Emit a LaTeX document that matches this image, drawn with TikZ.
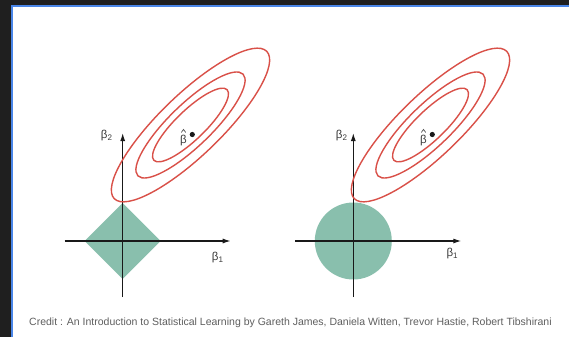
\documentclass[tikz,border=0pt]{standalone}
\usepackage{fontspec}
\setmainfont{Liberation Sans}
\usetikzlibrary{arrows.meta,positioning}
\definecolor{frame}{RGB}{31,31,31}
\definecolor{edge}{RGB}{74,134,232}
\definecolor{contour}{RGB}{217,80,72}
\definecolor{region}{RGB}{137,191,173}
\definecolor{ink}{RGB}{25,25,25}
\definecolor{soft}{RGB}{95,95,95}

\begin{document}
\begin{tikzpicture}[x=1pt,y=-1pt,
  ax/.style={-{Latex[length=8pt,width=5pt]},line width=1.2pt,color=ink},
  ct/.style={draw=contour,line width=1.4pt},
  lb/.style={text=ink!85,font=\fontsize{11.5}{13}\selectfont,inner sep=0pt}]
  \useasboundingbox (0,0) rectangle (569,337);
  \fill[white] (0,0) rectangle (569,337);
  \fill[frame] (0,0) rectangle (569,5.5);
  \fill[frame] (0,0) rectangle (11,337);
  \draw[edge,line width=2pt] (12,337) -- (12,6.5) -- (569,6.5);
  \fill[region] (122.7,241) ++(-38,0) -- ++(38,-38) -- ++(38,38) -- ++(-38,38) -- cycle;
  \fill[region] (353.3,241) circle[radius=38.5];
  \foreach \p/\ox/\ex/\bx/\by/\cx/\cy in {l/122.7/190.5/-16/-105/95/17, r/353.3/430.5/-11.6/-105/99/13} {
    \coordinate (o\p) at (\ox,241);
    \coordinate (w\p) at ([xshift=-58pt]o\p);
    \coordinate (e\p) at ([xshift=108pt]o\p);
    \coordinate (s\p) at ([yshift=-56pt]o\p);
    \coordinate (n\p) at ([yshift=108pt]o\p);
    \draw[ax] (w\p) -- (e\p);
    \draw[ax] (s\p) -- (n\p);
    \node[lb] (b2\p) at ([shift={(\bx pt,-\by pt)}]o\p) {β\textsubscript{2}};
    \node[lb] (b1\p) at ([shift={(\cx pt,-\cy pt)}]o\p) {β\textsubscript{1}};
    \coordinate (c\p) at (\ex,125);
    \foreach \k in {1,0.69,0.48}
      \draw[ct,rotate around={44:(c\p)}] (c\p) ellipse[x radius=106*\k,y radius=30.5*\k];
    \fill[ink] ([shift={(1.8pt,-9.5pt)}]c\p) circle[radius=2.6];
    \node[lb] (bh\p) at ([shift={(-7pt,-16pt)}]c\p) {β};
    \draw[ink!85,line width=0.6pt] ([shift={(-2.2pt,3pt)}]bh\p.north) -- ++(2.2,-3) -- ++(2.2,3);
  }
  \node[text=soft,font=\fontsize{10.5}{12}\selectfont,anchor=west,inner sep=0pt] (credit) at (29,323) {Credit : An Introduction to Statistical Learning by Gareth James, Daniela Witten, Trevor Hastie, Robert Tibshirani};
\end{tikzpicture}
\end{document}
